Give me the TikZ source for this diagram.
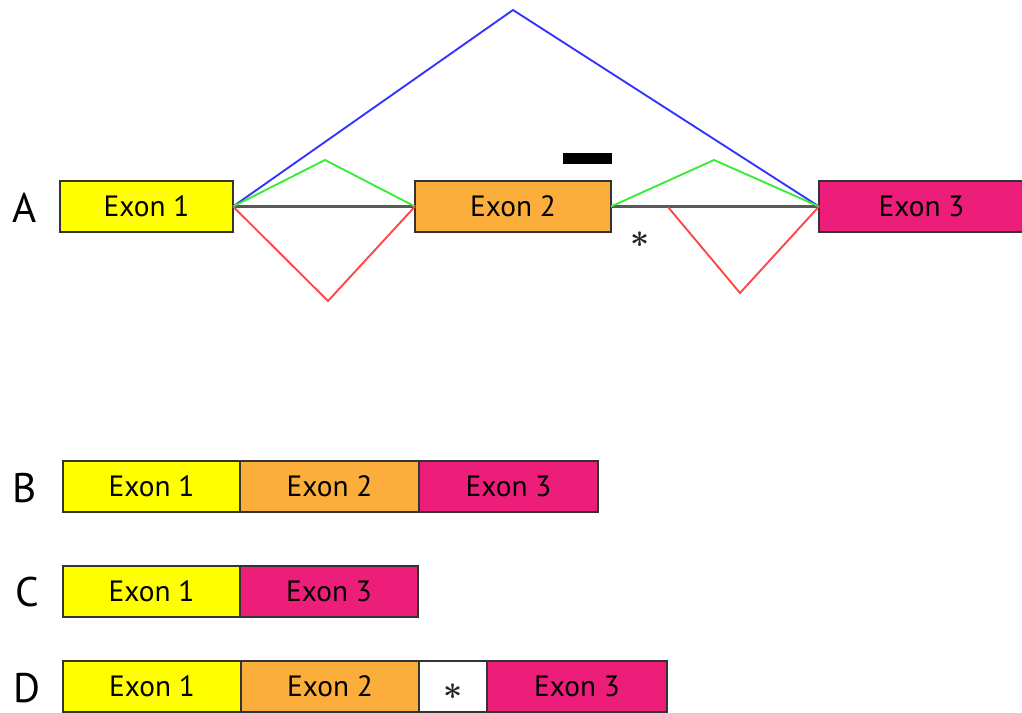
\documentclass[tikz,border=0pt]{standalone}
\usepackage{fontspec}
\setmainfont{PT Sans}
\definecolor{exonA}{HTML}{FFFF00}
\definecolor{exonB}{HTML}{FBAE3C}
\definecolor{exonC}{HTML}{ED1E79}
\definecolor{skipblue}{HTML}{3333FF}
\definecolor{incgreen}{HTML}{33EE33}
\definecolor{altred}{HTML}{FF4444}
\def\px{0.75pt}
\newcommand{\stopsign}{{\boldmath\(\ast\)}}
\begin{document}
\begin{tikzpicture}[x=0.75pt,y=-0.75pt,
  exon/.style={draw=black!80, line width=1.4pt, inner sep=0pt, outer sep=0pt,
    anchor=north west, minimum height=51*\px, font=\fontsize{22}{24}\selectfont},
  rowlabel/.style={font=\fontsize{31}{34}\selectfont, inner sep=0pt},
  stopmark/.style={font=\fontsize{38}{38}\selectfont, inner sep=0pt, text=black!85},
  intron/.style={draw=black!65, line width=1.8pt},
  junction/.style={line width=1.4pt}]
\useasboundingbox (0,0) rectangle (1022,713);

% --- pre-mRNA (row A)
\node[rowlabel] (la) at (25,208) {A};
\node[exon, fill=exonA, minimum width=173*\px] (a1) at (60,181) {Exon 1};
\node[exon, fill=exonB, minimum width=196*\px] (a2) at (415,181) {Exon 2};
\node[exon, fill=exonC, minimum width=205*\px] (a3) at (819,181) {Exon 3};

\draw[intron] (a1.east) -- (a2.west);
\draw[intron] (a2.east) -- (a3.west);

\coordinate (skiptop) at (513,10);
\coordinate (g1) at (325,160);
\coordinate (g2) at (714,160);
\coordinate (r1) at (328,301);
\coordinate (r2start) at (668,207);
\coordinate (r2) at (740,293);

\draw[junction, skipblue] (a1.east) -- (skiptop) -- (a3.west);
\draw[junction, incgreen] (a1.east) -- (g1) -- (a2.west);
\draw[junction, incgreen] (a2.east) -- (g2) -- (a3.west);
\draw[junction, altred] (a1.east) -- (r1) -- (a2.west);
\draw[junction, altred] (r2start) -- (r2) -- (a3.west);

\node[fill=black, inner sep=0pt, minimum width=49*\px, minimum height=11*\px] (probe) at (587,159) {};
\node[stopmark] (stopA) at (640,240) {\stopsign};

% --- mRNA B
\node[rowlabel] (lb) at (25,488) {B};
\node[exon, fill=exonA, minimum width=177*\px] (b1) at (63,461) {Exon 1};
\node[exon, fill=exonB, minimum width=179*\px] (b2) at (b1.north east) {Exon 2};
\node[exon, fill=exonC, minimum width=179*\px] (b3) at (b2.north east) {Exon 3};

% --- mRNA C
\node[rowlabel] (lc) at (27,592) {C};
\node[exon, fill=exonA, minimum width=177*\px] (c1) at (63,566) {Exon 1};
\node[exon, fill=exonC, minimum width=178*\px] (c3) at (c1.north east) {Exon 3};

% --- mRNA D
\node[rowlabel] (ld) at (27,688) {D};
\node[exon, fill=exonA, minimum width=178*\px] (d1) at (63,661) {Exon 1};
\node[exon, fill=exonB, minimum width=178*\px] (d2) at (d1.north east) {Exon 2};
\node[exon, fill=white, minimum width=68*\px] (d4) at (d2.north east) {};
\node[exon, fill=exonC, minimum width=180*\px] (d3) at (d4.north east) {Exon 3};
\node[stopmark, yshift=-4pt] (stopD) at (d4.center) {\stopsign};
\end{tikzpicture}
\end{document}
